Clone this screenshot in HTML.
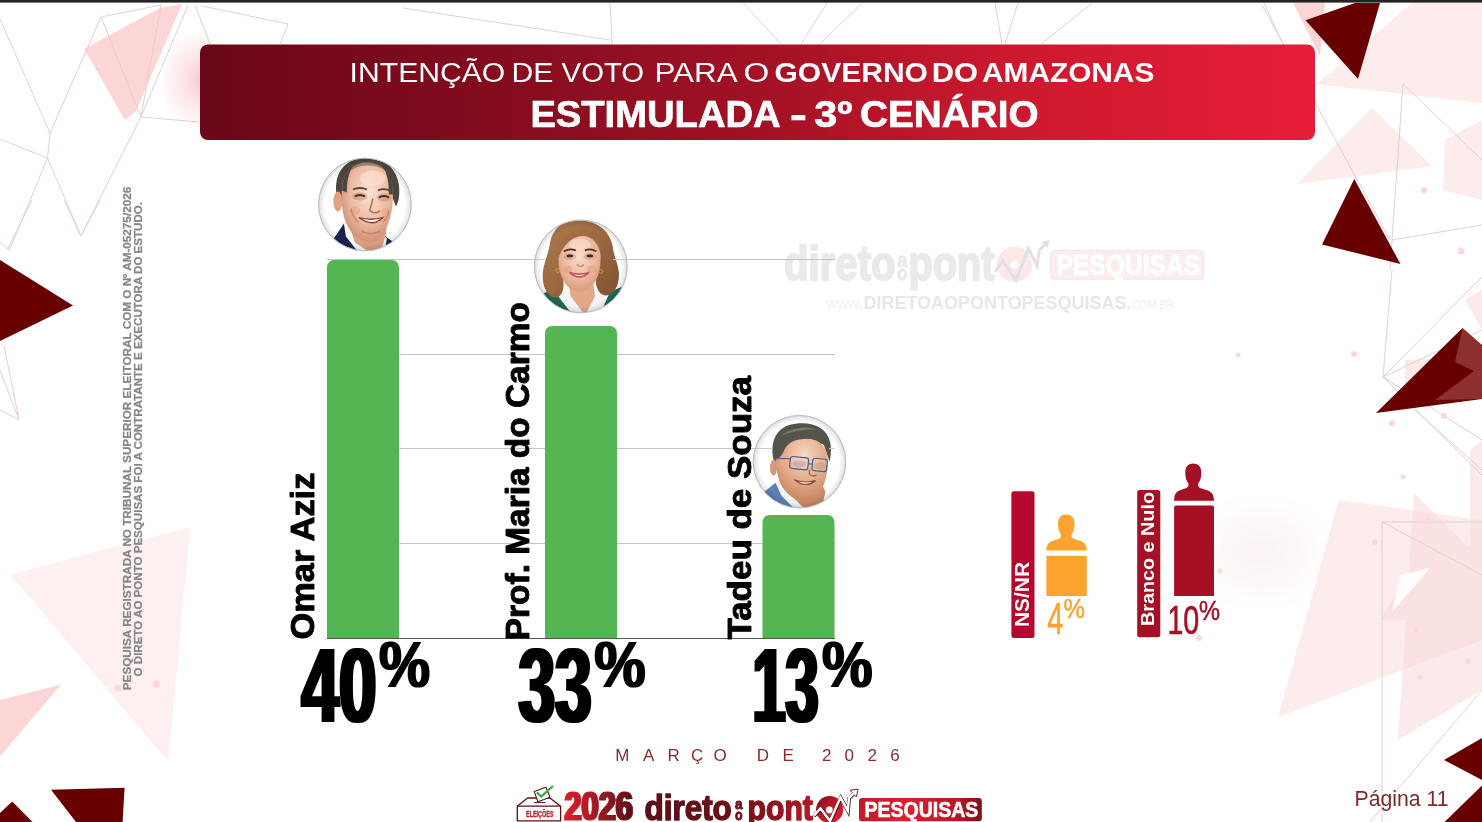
<!DOCTYPE html>
<html lang="pt-BR">
<head>
<meta charset="utf-8">
<title>Intenção de voto para o Governo do Amazonas - Estimulada - 3º Cenário</title>
<style>
html,body{margin:0;padding:0;background:#fff;}
body{width:1482px;height:822px;overflow:hidden;position:relative;font-family:"Liberation Sans",sans-serif;}
svg{position:absolute;left:0;top:0;display:block;}
text{font-family:"Liberation Sans",sans-serif;}
.b{font-weight:bold;}
</style>
</head>
<body>
<svg width="1482" height="822" viewBox="0 0 1482 822">
<defs>
<linearGradient id="gBanner" x1="0" y1="0" x2="1" y2="0">
<stop offset="0" stop-color="#690718"/>
<stop offset="0.32" stop-color="#8a0d20"/>
<stop offset="0.5" stop-color="#a21124"/>
<stop offset="0.72" stop-color="#cb192e"/>
<stop offset="1" stop-color="#e71d36"/>
</linearGradient>
<radialGradient id="gGlow"><stop offset="0" stop-color="#f3b8c0" stop-opacity="0.75"/><stop offset="0.5" stop-color="#f5c6cc" stop-opacity="0.4"/><stop offset="1" stop-color="#f3b8c0" stop-opacity="0"/></radialGradient>
<radialGradient id="gGlow2"><stop offset="0" stop-color="#f6dede" stop-opacity="0.4"/><stop offset="1" stop-color="#f6dede" stop-opacity="0"/></radialGradient>
<filter id="fatX" x="-5%" y="-5%" width="110%" height="110%"><feMorphology operator="dilate" radius="1.6 0"/></filter>
<filter id="fatS" x="-5%" y="-5%" width="110%" height="110%"><feMorphology operator="dilate" radius="1 0.4"/></filter>
<filter id="blur2"><feGaussianBlur stdDeviation="1.2"/></filter>
</defs>

<!-- ===== BACKGROUND DECOR ===== -->
<g id="decor">
<!-- soft glows -->
<ellipse cx="1262" cy="552" rx="75" ry="62" fill="url(#gGlow2)"/>
<!-- pale pink shapes -->
<g fill="#fdecec">
<polygon points="1316.8,84.3 1412,3 1482,3 1482,103"/>
<polygon points="1372,108 1297,184 1432,166"/>
<polygon points="1445,140 1482,120 1482,200 1443,190"/>
<polygon points="10.5,574.5 190,527 168.5,762" fill="#fef0f0"/>
<polygon points="1339,500 1278,717 1482,640 1482,520"/>
</g>
<g fill="#fbdcdc" opacity="0.6">
<polygon points="1414,493 1398,740 1482,690 1482,560"/>
<polygon points="1380,620 1482,620 1482,545 1420,555"/>
<polygon points="1405,360 1440,358 1405,385"/>
<polygon points="1465,300 1482,290 1482,330"/>
<polygon points="1470,450 1482,440 1482,560 1470,560"/>
</g>
<polygon points="1400,575 1430,568 1392,612" fill="#fff" opacity="0.9"/>
<!-- stronger pink -->
<g fill="#fcd6d6">
<polygon points="84,49 160,8 182,4 136,111 125,120"/>
<polygon points="0,700 61,684.5 0,756.5"/>
<polygon points="1293,3 1325,3 1320,56"/>
</g>
<!-- thin lines -->
<g fill="none" stroke="#e3cfcf" stroke-width="1">
<path d="M0 19L50 133L101 17L141 117M101 17L161 5L141 117M188 5L141 117L81 236M141 117L199 122M195 5L210 44M202 6L288 24L280 44M50 133L47.5 158M0 139L47.5 158L81 236M47.5 158L9.5 250L0 243M81 236L64 200M32 200L7.5 249M100 200L81 236"/>
<path d="M0 370L19 420L0 410M4 345L19 420"/>
<path d="M403 8L610 40M610 3L612 44M743 3L781 44M827 3L801 44M862 3L820 44M995 3L1002 44M1018 3L1005 44M1092 3L1041 44M1264 3L1283 44"/>
<path d="M1262 5L1390 240M1403 84L1482 160M1403 84L1392 240L1482 225M1392 240L1390 270"/>
<path d="M1392 270L1383 377L1482 277M1383 377L1482 330M1383 377L1482 440M1383 377L1482 475M1415 410L1482 470"/>
<path d="M1382 522L1482 522M1382 522L1382 822M1382 522L1482 575M1482 690L1370 822"/>
</g>
<!-- small dots -->
<g fill="#fbd9d9">
<circle cx="1354" cy="354" r="3"/><circle cx="1392" cy="423" r="3"/><circle cx="1444" cy="416" r="3"/><circle cx="1403" cy="477" r="2.5"/>
<circle cx="1424" cy="190" r="3"/><circle cx="1461" cy="251" r="3.5"/><circle cx="1429" cy="521" r="3"/><circle cx="1375" cy="542" r="3"/>
<circle cx="1416" cy="630" r="3"/><circle cx="1468" cy="661" r="3"/><circle cx="1420" cy="677" r="2.5"/>
<circle cx="1238" cy="355" r="2.5"/><circle cx="1220" cy="571" r="2.5"/><circle cx="1199" cy="638" r="3"/>
<circle cx="118" cy="688" r="3.5"/><circle cx="156" cy="684" r="3.5"/>
</g>
<!-- dark shapes -->
<g fill="#690000">
<polygon points="0,260 73,305.5 0,341"/>
<polygon points="1305.5,20.2 1355,3 1380,3 1358,79"/>
<polygon points="1354.3,179 1322,244.5 1400.5,264"/>
<polygon points="1376,413 1462.5,328 1482,345 1482,399"/>
<polygon points="1444,760 1482,738 1482,780"/>
<polygon points="1444.5,822 1482,785.5 1482,822"/>
<polygon points="51,789.7 124.6,787.7 122.6,822 76,822"/>
<polygon points="0,813 12.2,801.5 32.5,822 0,822"/>
</g>
<!-- light overlays on dark triangle -->
<g fill="#e9a9a9" opacity="0.28">
<polygon points="1462.5,328 1482,345 1482,375 1455,362"/>
<polygon points="1435,400 1482,365 1482,399"/>
</g>

</g>

<!-- top bar -->
<rect x="0" y="0" width="1482" height="2.6" fill="#232323"/>

<!-- ===== BANNER ===== -->
<g id="banner">
<ellipse cx="200" cy="80" rx="40" ry="50" fill="url(#gGlow)"/>
<rect x="200" y="44.5" width="1115" height="95.5" rx="8" ry="8" fill="url(#gBanner)"/>
<g fill="#fff" font-size="26.8">
<text x="349.6" y="81.7" textLength="155.7" lengthAdjust="spacingAndGlyphs">INTENÇÃO</text>
<text x="511.4" y="81.7" textLength="41.9" lengthAdjust="spacingAndGlyphs">DE</text>
<text x="561.6" y="81.7" textLength="82.5" lengthAdjust="spacingAndGlyphs">VOTO</text>
<text x="654.5" y="81.7" textLength="83.1" lengthAdjust="spacingAndGlyphs">PARA</text>
<text x="743.4" y="81.7" textLength="25.8" lengthAdjust="spacingAndGlyphs">O</text>
<text class="b" x="774.5" y="81.7" textLength="153.4" lengthAdjust="spacingAndGlyphs">GOVERNO</text>
<text class="b" x="931.8" y="81.7" textLength="46.3" lengthAdjust="spacingAndGlyphs">DO</text>
<text class="b" x="982.0" y="81.7" textLength="172.3" lengthAdjust="spacingAndGlyphs">AMAZONAS</text>
</g>
<g fill="#fff" font-size="36.3" class="b" stroke="#fff" stroke-width="0.7">
<text x="530.4" y="126.5" textLength="250.2" lengthAdjust="spacingAndGlyphs">ESTIMULADA</text>
<text x="790.1" y="126.5" textLength="16.8" lengthAdjust="spacingAndGlyphs">-</text>
<text x="814.2" y="126.5" textLength="38.1" lengthAdjust="spacingAndGlyphs">3º</text>
<text x="860.1" y="126.5" textLength="178.4" lengthAdjust="spacingAndGlyphs">CENÁRIO</text>
</g>

</g>

<!-- ===== WATERMARK ===== -->
<g id="wm">
<g class="b" fill="#eaeaea" stroke="#eaeaea" stroke-width="2" stroke-linejoin="round">
<text x="784" y="280" font-size="47.3" textLength="111.6" lengthAdjust="spacingAndGlyphs">direto</text>
<text x="908.4" y="280" font-size="47.3" textLength="86" lengthAdjust="spacingAndGlyphs">pont</text>
<text x="897" y="266.6" font-size="20" stroke-width="1.1" textLength="10.4" lengthAdjust="spacingAndGlyphs">a</text>
<text x="897" y="280" font-size="20" stroke-width="1.1" textLength="10.4" lengthAdjust="spacingAndGlyphs">o</text>
</g>
<circle cx="1014.5" cy="264.4" r="17.7" fill="#fce8e8"/>
<circle cx="1014.5" cy="264.5" r="4" fill="#fff"/>
<path d="M995 272L1002.8 261L1016 280.4L1028.5 248.6L1037 265.7L1039.3 250.2L1046 243.5" fill="none" stroke="#e1e1e1" stroke-width="3" stroke-linejoin="miter"/>
<polygon points="1049.6,239.4 1047.2,248.2 1045.4,245 1041.2,242.4" fill="#e1e1e1"/>
<rect x="1050.6" y="250.3" width="153.2" height="29" rx="3.5" fill="#fdeded" stroke="#fbe4e4" stroke-width="1"/>
<text class="b" x="1056.4" y="274.7" font-size="28.9" fill="#fff" stroke="#fff" stroke-width="0.8" textLength="143.8" lengthAdjust="spacingAndGlyphs">PESQUISAS</text>
<g fill="#e7e7e7">
<text x="826" y="308.5" font-size="17.3" textLength="36.5" lengthAdjust="spacingAndGlyphs" fill="#efefef">www.</text>
<text class="b" x="863.5" y="308.5" font-size="17.6" textLength="268" lengthAdjust="spacingAndGlyphs">DIRETOAOPONTOPESQUISAS.</text>
<text x="1132" y="308.5" font-size="13" textLength="42" lengthAdjust="spacingAndGlyphs" fill="#efefef">COM.BR</text>
</g>

</g>

<!-- ===== CHART ===== -->
<g id="chart">
<!-- grid -->
<g stroke="#c4c4c4" stroke-width="1">
<line x1="327" y1="259.5" x2="835" y2="259.5"/>
<line x1="327" y1="354.5" x2="835" y2="354.5"/>
<line x1="327" y1="448.5" x2="835" y2="448.5"/>
<line x1="327" y1="543.5" x2="835" y2="543.5"/>
</g>
<!-- bars -->
<g fill="#54b553">
<path d="M327 638.7V267a7 7 0 0 1 7-7h58a7 7 0 0 1 7 7V638.7z"/>
<path d="M545 638.7V333a7 7 0 0 1 7-7h58a7 7 0 0 1 7 7V638.7z"/>
<path d="M762.5 638.7V522a7 7 0 0 1 7-7h58a7 7 0 0 1 7 7V638.7z"/>
</g>
<line x1="327" y1="638.5" x2="835" y2="638.5" stroke="#555" stroke-width="1.2"/>
<defs>
<clipPath id="cpF"><circle cx="0" cy="0" r="46"/></clipPath>
<radialGradient id="gRim" cx="0.5" cy="0.5" r="0.5"><stop offset="0" stop-color="#000" stop-opacity="0"/><stop offset="0.86" stop-color="#000" stop-opacity="0"/><stop offset="0.97" stop-color="#000" stop-opacity="0.10"/><stop offset="1" stop-color="#000" stop-opacity="0.22"/></radialGradient>
<radialGradient id="gSkin1" cx="0.55" cy="0.38" r="0.7"><stop offset="0" stop-color="#fbe2d5"/><stop offset="0.55" stop-color="#ecb9a0"/><stop offset="1" stop-color="#c58266"/></radialGradient>
<radialGradient id="gSkin2" cx="0.5" cy="0.4" r="0.7"><stop offset="0" stop-color="#f9dccb"/><stop offset="0.6" stop-color="#eab59a"/><stop offset="1" stop-color="#cf8d6e"/></radialGradient>
<radialGradient id="gSkin3" cx="0.55" cy="0.28" r="0.8"><stop offset="0" stop-color="#f8d8c2"/><stop offset="0.5" stop-color="#e4ab8a"/><stop offset="1" stop-color="#bf7d5a"/></radialGradient>
<linearGradient id="gHair2" x1="0" y1="0" x2="1" y2="1"><stop offset="0" stop-color="#b07a4e"/><stop offset="0.5" stop-color="#9a6840"/><stop offset="1" stop-color="#7d5233"/></linearGradient>
<filter id="fBlurF" x="-10%" y="-10%" width="120%" height="120%"><feGaussianBlur stdDeviation="0.55"/></filter>
</defs>
<!-- Omar Aziz -->
<g transform="translate(364.9,204.5)">
<circle r="46.6" fill="#fff"/>
<g clip-path="url(#cpF)"><g filter="url(#fBlurF)">
<path d="M-40 46L-31 34L-21 19L-10 30L4 46Z" fill="#1b2350"/>
<path d="M46 46L29 38L18 30L12 46Z" fill="#1b2350"/>
<path d="M-21 19L-14 22L10 46L-8 46L-19 32Z" fill="#fafafa"/>
<path d="M18 30L22 34L20 46L8 46Z" fill="#f4f4f4"/>
<path d="M-16 20L-10 38L2 46L16 46L21 30L22 18Z" fill="#d99f80"/>
<path d="M-28 -8C-32 -30 -21 -45 -2 -46.5C17 -48 31 -38 34 -20C35 -10 34 -3 31 2L25 -14L-19 -16L-23 0Z" fill="#4b4740"/>
<ellipse cx="-27" cy="-3" rx="4.5" ry="10" fill="#e0a283"/>
<path d="M2 -42C14 -42 23 -36 27 -20C29 -8 28 4 25 14C21 28 14 38 6 38C-4 38 -14 30 -19 18C-23 8 -24 -6 -23 -16C-21 -32 -12 -42 2 -42Z" fill="url(#gSkin1)"/>
<path d="M-18 -30C-14 -40 -6 -44 3 -44C14 -44 22 -38 26 -28C20 -36 12 -39 3 -39C-6 -39 -13 -36 -18 -30Z" fill="#5a5048" fill-opacity="0.55"/>
<path d="M-23 -14C-22 -26 -18 -34 -12 -39C-17 -30 -18 -22 -18 -12Z" fill="#4b4740"/>
<path d="M28 -10C28 -24 24 -32 18 -38C23 -30 24 -20 24 -10Z" fill="#4b4740"/>
<ellipse cx="-5" cy="-8" rx="7.5" ry="4" fill="#a8684c" fill-opacity="0.35"/>
<ellipse cx="19" cy="-7" rx="7" ry="4" fill="#a8684c" fill-opacity="0.35"/>
<ellipse cx="8" cy="-26" rx="13" ry="8" fill="#fbe3d4" fill-opacity="0.6"/>
<ellipse cx="-10" cy="6" rx="5" ry="4" fill="#e79c86" fill-opacity="0.45"/>
<ellipse cx="21" cy="7" rx="4.5" ry="4" fill="#e79c86" fill-opacity="0.45"/>
<path d="M-12 -15Q-5 -18 2 -15" stroke="#5a4030" stroke-width="1.8" fill="none"/>
<path d="M13 -14Q20 -17 26 -13" stroke="#5a4030" stroke-width="1.8" fill="none"/>
<path d="M-10 -8Q-5 -11 0 -8" stroke="#3a2a22" stroke-width="2" fill="none"/>
<path d="M14 -7Q19 -10 24 -7" stroke="#3a2a22" stroke-width="2" fill="none"/>
<path d="M8 -6C7 0 5 4 5 6C7 9 13 9 15 6" stroke="#b87356" stroke-width="1.6" fill="none"/>
<path d="M-14 4Q-12 14 -6 18M24 6Q22 14 18 18" stroke="#c98667" stroke-width="1.4" fill="none"/>
<path d="M-6 13Q6 16.5 18 13Q8 23.5 -6 13Z" fill="#fff" stroke="#8c3a34" stroke-width="1.3"/>
<path d="M-3 27Q6 31 15 27" stroke="#c98667" stroke-width="1.5" fill="none"/>
</g></g>
<circle r="46.5" fill="url(#gRim)"/>
<circle r="46.4" fill="none" stroke="#bdbdbd" stroke-width="1"/>
</g>
<!-- Prof. Maria do Carmo -->
<g transform="translate(580.8,266.4)">
<circle r="46.6" fill="#fff" fill-opacity="0.93"/>
<g clip-path="url(#cpF)"><g filter="url(#fBlurF)">
<path d="M-46 30L-30 24L-16 30L-6 46L-46 46Z" fill="#1f6b59"/>
<path d="M46 18L28 26L18 46L46 46Z" fill="#1f6b59"/>
<path d="M-24 28L-12 24L14 24L28 28L20 46L-10 46Z" fill="#f5f5f7"/>
<path d="M-12 18L-10 30L2 46L6 46L14 30L13 18Z" fill="#e2a989"/>
<path d="M-2 -46C-18 -47 -29 -37 -31 -22C-33 -10 -39 0 -38 13C-37 24 -31 32 -24 31C-18 29 -16 22 -18 10L-15 -20L14 -22L15 10C14 22 19 29 26 29C34 27 39 18 38 6C37 -4 33 -10 32 -20C29 -36 16 -46 -2 -46Z" fill="url(#gHair2)"/>
<path d="M-1 -33C10 -33 18 -27 19.5 -14C20.5 -4 19 6 15 14C11 21 5 25 -1 25C-8 25 -14 21 -18 13C-22 5 -23 -5 -22 -14C-20 -27 -12 -33 -1 -33Z" fill="url(#gSkin2)"/>
<path d="M-22.5 -8C-24 -26 -14 -35 0 -35C11 -35 20 -29 20.5 -10C18 -22 13 -28 6 -30C-4 -32 -16 -26 -22.5 -8Z" fill="#a06d44"/>
<ellipse cx="-11" cy="-10" rx="6" ry="3.2" fill="#a8684c" fill-opacity="0.3"/>
<ellipse cx="9" cy="-10" rx="6" ry="3.2" fill="#a8684c" fill-opacity="0.3"/>
<ellipse cx="-13" cy="3" rx="4.5" ry="3.5" fill="#e98f80" fill-opacity="0.4"/>
<ellipse cx="11" cy="3" rx="4.5" ry="3.5" fill="#e98f80" fill-opacity="0.4"/>
<ellipse cx="-1" cy="-22" rx="11" ry="6" fill="#fbe0cf" fill-opacity="0.55"/>
<path d="M-17 -15Q-11 -18.5 -5 -16" stroke="#4a3020" stroke-width="1.7" fill="none"/>
<path d="M4 -16Q10 -18.5 15.5 -15" stroke="#4a3020" stroke-width="1.7" fill="none"/>
<ellipse cx="-11" cy="-10.5" rx="3.2" ry="1.4" fill="#3a2a22"/>
<ellipse cx="9" cy="-10.5" rx="3.2" ry="1.4" fill="#3a2a22"/>
<path d="M-4 -2Q-1 2 3 -2" stroke="#c28464" stroke-width="1.4" fill="none"/>
<path d="M-11.5 6Q-1.5 9.5 8.5 6Q-1.5 15 -11.5 6Z" fill="#fff" stroke="#c9525c" stroke-width="1.6"/>
<circle cx="-23" cy="4" r="2" fill="none" stroke="#c9a040" stroke-width="1"/>
<circle cx="20" cy="5" r="2" fill="none" stroke="#c9a040" stroke-width="1"/>
</g></g>
<circle r="46.5" fill="url(#gRim)"/>
<circle r="46.5" fill="none" stroke="#bdbdbd" stroke-width="1"/>
</g>
<!-- Tadeu de Souza -->
<g transform="translate(799.5,461.7)">
<circle r="46.4" fill="#fff" fill-opacity="0.93"/>
<g clip-path="url(#cpF)"><g filter="url(#fBlurF)">
<path d="M-40 34L-24 21L-14 30L-2 46L-40 46Z" fill="#5c80b6"/>
<path d="M24 38L36 40L30 46L20 46Z" fill="#5c80b6"/>
<path d="M-24 21L-19 17L-8 30L4 46L-6 46L-18 34Z" fill="#f3f5f4"/>
<path d="M-16 18L-8 34L4 46L22 46L26 30L20 18Z" fill="#c98a66"/>
<path d="M-26 -2C-30 -22 -22 -36 -4 -38C14 -40 28 -34 31 -18C32 -10 31 -4 30 0L24 -18L-16 -16L-22 2Z" fill="#55524c"/>
<ellipse cx="-26" cy="6" rx="3.5" ry="8" fill="#d39a78"/>
<path d="M4 -24C16 -24 26 -18 28 -6C29 6 27 18 22 28C18 36 12 40 6 40C-4 40 -14 32 -19 22C-23 12 -25 0 -23 -8C-20 -20 -8 -24 4 -24Z" fill="url(#gSkin3)"/>
<path d="M-23 -2C-26 -20 -16 -31 0 -31C15 -32 27 -26 30 -8C26 -18 18 -23 8 -23C-4 -23 -12 -20 -16 -10C-18 -6 -20 -4 -23 -2Z" fill="#55524c"/>
<path d="M-18 -26C-10 -34 6 -36 18 -32C8 -33 -6 -31 -18 -26Z" fill="#8a8781" fill-opacity="0.7"/>
<ellipse cx="0" cy="2" rx="7" ry="3.5" fill="#9a5f42" fill-opacity="0.3"/>
<ellipse cx="20" cy="4" rx="6" ry="3.5" fill="#9a5f42" fill-opacity="0.3"/>
<g fill="#dfe6ee" fill-opacity="0.18" stroke="#3f5f90" stroke-width="1.2">
<rect x="-9.5" y="-4.5" width="18.3" height="12" rx="2.5" transform="rotate(6 0 1)"/>
<rect x="12.8" y="-3" width="14.7" height="12.4" rx="2.5" transform="rotate(6 20 3)"/>
</g>
<path d="M-9.5 -3L-23 -3.5M9 2L13 2.5" stroke="#3f5f90" stroke-width="1.1" fill="none"/>
<path d="M10 8Q9 13 12 14Q15 15 17 13" stroke="#a86846" stroke-width="1.4" fill="none"/>
<path d="M-5 18Q5 22 16 19Q6 27 -5 18Z" fill="#fff" stroke="#8c4638" stroke-width="1.2"/>
</g></g>
<circle r="46.3" fill="url(#gRim)"/>
<circle r="46.3" fill="none" stroke="#bdbdbd" stroke-width="1"/>
</g>

<g stroke="#c9c9c9" stroke-width="1"><line x1="534.5" y1="259.5" x2="546" y2="259.5"/><line x1="613" y1="259.5" x2="627.5" y2="259.5"/><line x1="753.5" y1="448.5" x2="773" y2="448.5"/><line x1="829" y1="448.5" x2="834.5" y2="448.5"/></g>
<!-- names -->
<g class="b" font-size="32.5" fill="#000" stroke="#000" stroke-width="0.9" stroke-linejoin="round">
<text transform="translate(313.8,639.6) rotate(-90)" textLength="167" lengthAdjust="spacingAndGlyphs">Omar Aziz</text>
<text transform="translate(529,640.2) rotate(-90)" textLength="338" lengthAdjust="spacingAndGlyphs">Prof. Maria do Carmo</text>
<text transform="translate(750.5,639.6) rotate(-90)" textLength="263.6" lengthAdjust="spacingAndGlyphs">Tadeu de Souza</text>
</g>
<!-- values -->
<g class="b" fill="#000" filter="url(#fatX)" font-size="105.5">
<text x="301.4" y="721.5" textLength="75" lengthAdjust="spacingAndGlyphs">40</text>
<text x="518.5" y="721.5" textLength="73.2" lengthAdjust="spacingAndGlyphs">33</text>
<text x="752.5" y="721.5" textLength="66" lengthAdjust="spacingAndGlyphs">13</text>
</g>
<g class="b" fill="#000" font-size="64" filter="url(#fatS)">
<text x="379" y="686.5" textLength="51" lengthAdjust="spacingAndGlyphs">%</text>
<text x="594.2" y="686.5" textLength="51.4" lengthAdjust="spacingAndGlyphs">%</text>
<text x="822" y="686.5" textLength="50.5" lengthAdjust="spacingAndGlyphs">%</text>
</g>
<text x="615.3 643 667.6 691 713.4 738 756.7 782.5 805 822.1 844.5 867.5 890.2" y="761.1" font-size="17" fill="#8b2b2b">MARÇO DE 2026</text>

</g>

<!-- ===== SIDE ===== -->
<g id="side">
<!-- NS/NR -->
<rect x="1011.4" y="491.3" width="23.1" height="146.7" rx="2.5" fill="#b5082e"/>
<text class="b" transform="translate(1029,627) rotate(-90)" font-size="19.5" fill="#fff" textLength="65" lengthAdjust="spacingAndGlyphs">NS/NR</text>
<g fill="#fca32f">
<rect x="1046.4" y="555.8" width="40.4" height="40.2"/>
<path d="M1046.4 550.4 C1046.4 543 1050 541.5 1056 539.8 C1060 538.6 1061.2 537.5 1061 534.5 C1059 532 1057.8 528 1058 523.5 C1058 517.5 1061.5 514.5 1066.3 514.5 C1071 514.5 1074.5 517.5 1074.5 523.5 C1074.7 528 1073.5 532 1071.5 534.5 C1071.3 537.5 1072.5 538.6 1076.5 539.8 C1083 541.5 1086.8 543 1086.8 550.4 Z"/>
</g>
<text x="1047.2" y="633.8" font-size="44" fill="#fca32f" stroke="#fca32f" stroke-width="0.6" textLength="16.2" lengthAdjust="spacingAndGlyphs">4</text>
<text x="1063.6" y="618.4" font-size="27" fill="#fca32f" stroke="#fca32f" stroke-width="0.5" textLength="21.4" lengthAdjust="spacingAndGlyphs">%</text>
<!-- Branco e Nulo -->
<rect x="1137.2" y="490.1" width="23.1" height="147.2" rx="2.5" fill="#a51025"/>
<text class="b" transform="translate(1153.8,626) rotate(-90)" font-size="18.4" fill="#fff" textLength="134" lengthAdjust="spacingAndGlyphs">Branco e Nulo</text>
<g fill="#a51025">
<path d="M1174.1 596V507.5a2 2 0 0 1 2-2h35.9a2 2 0 0 1 2 2V596z"/>
<path d="M1174.1 500.7 C1174.1 492.5 1177.5 490.8 1183.5 489 C1187.5 487.8 1188.7 486.7 1188.5 483.7 C1186.5 481.2 1185.1 477.2 1185.3 472.5 C1185.3 466.4 1188.6 463.4 1193.3 463.4 C1198 463.4 1201.3 466.4 1201.3 472.5 C1201.5 477.2 1200.1 481.2 1198.1 483.7 C1197.9 486.7 1199.1 487.8 1203.1 489 C1210 490.8 1214 492.5 1214 500.7 Z"/>
</g>
<text x="1167.4" y="634.4" font-size="41.5" fill="#a51025" stroke="#a51025" stroke-width="0.6" textLength="31.8" lengthAdjust="spacingAndGlyphs">10</text>
<text x="1199" y="620.4" font-size="27.4" fill="#a51025" stroke="#a51025" stroke-width="0.5" textLength="21" lengthAdjust="spacingAndGlyphs">%</text>
<!-- page -->
<text x="1354.6" y="805.9" font-size="22.2" fill="#7a2a2a" textLength="94" lengthAdjust="spacingAndGlyphs">Página 11</text>
<!-- vertical note -->
<g class="b" font-size="11.4" fill="#878787" stroke="#878787" stroke-width="0.25">
<text transform="translate(130.8,690.2) rotate(-90)" textLength="503.4" lengthAdjust="spacingAndGlyphs">PESQUISA REGISTRADA NO TRIBUNAL SUPERIOR ELEITORAL COM O Nº AM-05275/2026</text>
<text transform="translate(142.2,676.4) rotate(-90)" textLength="474.4" lengthAdjust="spacingAndGlyphs">O DIRETO AO PONTO PESQUISAS FOI A CONTRATANTE E EXECUTORA DO ESTUDO.</text>
</g>

</g>

<!-- ===== FOOTER ===== -->
<g id="footer">
<defs>
<linearGradient id="g2026" gradientUnits="userSpaceOnUse" x1="564" y1="0" x2="633" y2="0"><stop offset="0" stop-color="#dc202d"/><stop offset="0.45" stop-color="#a51824"/><stop offset="1" stop-color="#5a0f17"/></linearGradient>
<linearGradient id="gDir" gradientUnits="userSpaceOnUse" x1="645" y1="0" x2="813" y2="0"><stop offset="0" stop-color="#5b0f17"/><stop offset="0.55" stop-color="#6e1019"/><stop offset="1" stop-color="#b51824"/></linearGradient>
<linearGradient id="gCirc" x1="0" y1="0" x2="1" y2="1"><stop offset="0" stop-color="#7c1019"/><stop offset="0.55" stop-color="#c81b28"/><stop offset="1" stop-color="#e2202e"/></linearGradient>
<linearGradient id="gPesq" x1="0" y1="0" x2="1" y2="0"><stop offset="0" stop-color="#c21a27"/><stop offset="0.35" stop-color="#dc1f2d"/><stop offset="0.8" stop-color="#b81925"/><stop offset="1" stop-color="#7e1019"/></linearGradient>
</defs>
<!-- ballot box -->
<g fill="none" stroke="#5a1016" stroke-width="1.3" stroke-linejoin="round">
<path d="M517.3 806.2L527.5 798H550L560.6 806.2V820.8H517.3Z" fill="#fff"/>
<path d="M517.3 806.2H560.6"/>
<path d="M534 802.6H545.5" stroke-width="1"/>
<path d="M534.2 791.6L546 787.2L550 797.2L538 801.8Z" fill="#fff" stroke-width="1.1"/>
</g>
<path d="M536.8 792.4L541.2 796.6L553 786" fill="none" stroke="#2fae3c" stroke-width="2.2"/>
<text class="b" x="526" y="817.4" font-size="9.6" fill="#c21a27" stroke="#c21a27" stroke-width="0.3" textLength="27.5" lengthAdjust="spacingAndGlyphs">ELEIÇÕES</text>
<!-- 2026 -->
<text class="b" x="564.4" y="820" font-size="41.5" fill="url(#g2026)" stroke="url(#g2026)" stroke-width="1" textLength="68.6" filter="url(#fatS)" lengthAdjust="spacingAndGlyphs">2026</text>
<!-- direto ao ponto -->
<g class="b" fill="url(#gDir)" stroke="url(#gDir)" stroke-width="1.6" stroke-linejoin="round">
<text x="644.6" y="820" font-size="35.4" textLength="87.2" lengthAdjust="spacingAndGlyphs">direto</text>
<text x="747.6" y="820" font-size="35.4" textLength="65.2" lengthAdjust="spacingAndGlyphs">pont</text>
<text x="734.9" y="809.2" font-size="15" stroke-width="0.9" textLength="7.6" lengthAdjust="spacingAndGlyphs">a</text>
<text x="734.9" y="819.6" font-size="15" stroke-width="0.9" textLength="7.6" lengthAdjust="spacingAndGlyphs">o</text>
</g>
<!-- circle + arrow -->
<circle cx="829.6" cy="809.5" r="13.6" fill="url(#gCirc)"/>
<circle cx="829.3" cy="810" r="3.4" fill="#fff"/>
<path d="M814 815.9L820.7 808.7L830.2 821.3L840.7 797.9L848 811L849.2 797.8L854.5 793.3" fill="none" stroke="#4a0c12" stroke-width="3.7" stroke-linejoin="miter" stroke-miterlimit="6"/>
<polygon points="850.1,790.2 858.2,789.1 856.3,796.9" fill="#fff" stroke="#5a1016" stroke-width="0.9" stroke-linejoin="round"/>
<path d="M813.8 815.6L820.5 808.5L830 821L840.5 797.6L847.8 810.7L849 797.5L854.4 793" fill="none" stroke="#fff" stroke-width="2.5" stroke-linejoin="miter" stroke-miterlimit="6"/>
<!-- PESQUISAS -->
<rect x="859" y="798" width="122.8" height="23.3" rx="3" fill="url(#gPesq)"/>
<text class="b" x="864.4" y="817.3" font-size="21.8" fill="#fff" stroke="#fff" stroke-width="0.6" textLength="114" lengthAdjust="spacingAndGlyphs">PESQUISAS</text>

</g>
</svg>
</body>
</html>
